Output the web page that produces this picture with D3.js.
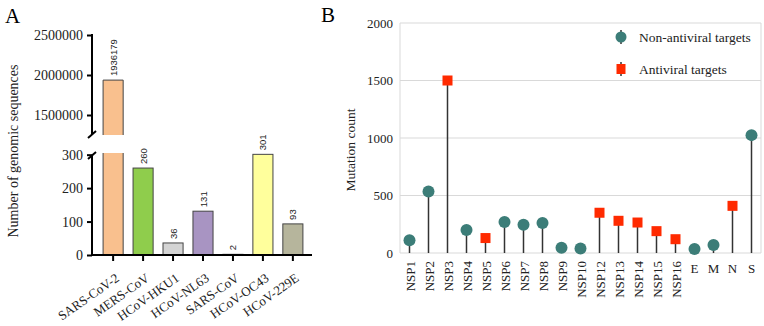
<!DOCTYPE html>
<html>
<head>
<meta charset="utf-8">
<script src="https://cdn.jsdelivr.net/npm/d3@7"></script>
<style>
  body { margin: 0; background: #fff; }
  svg { display: block; }
</style>
</head>
<body>
<svg id="chart" width="764" height="326"></svg>
<script>
// Panel A data
var viruses = ["SARS-CoV-2", "MERS-CoV", "HCoV-HKU1", "HCoV-NL63", "SARS-CoV", "HCoV-OC43", "HCoV-229E"]
var sequenceCounts = [1936179, 260, 36, 131, 2, 301, 93]
var virusColors = ["#f9c08e", "#8fcd4c", "#d4d4d4", "#a894c2", "#eeeeee", "#ffff9c", "#b6b59c"]
var topTicks = [1500000, 2000000, 2500000]
var bottomTicks = [0, 100, 200, 300]

// Panel B data
var proteins = ["NSP1", "NSP2", "NSP3", "NSP4", "NSP5", "NSP6", "NSP7", "NSP8", "NSP9", "NSP10",
                "NSP12", "NSP13", "NSP14", "NSP15", "NSP16", "E", "M", "N", "S"]
var mutationCounts = [110, 535, 1500, 200, 130, 270, 245, 260, 45, 40,
                      350, 280, 265, 190, 120, 35, 70, 410, 1025]
var antiviral = [false, false, true, false, true, false, false, false, false, false,
                 true, true, true, true, true, false, false, true, false]
var mutationTicks = [0, 500, 1000, 1500, 2000]

var teal = "#3c7d78"
var red = "#ff2a00"
var serif = "'Liberation Serif', 'Times New Roman', serif"

var svg = d3.select("#chart")

// ---------------- Panel A ----------------
var xA = d3.scaleBand().domain(viruses).range([98, 308]).paddingInner(0.33).paddingOuter(0.17)
var yTop = d3.scaleLinear().domain([1250000, 2500000]).range([135, 35])
var yBot = d3.scaleLinear().domain([0, 305]).range([255, 153])
var axisX = 92

svg.append("text").attr("x", 5).attr("y", 23).attr("font-size", 21).text("A")

var gA = svg.append("g")

// bars
viruses.forEach(function(v, i) {
  var val = sequenceCounts[i]
  var x0 = xA(v), x1 = x0 + xA.bandwidth()
  if (val > yBot.domain()[1]) {
    // lower piece, open at the top
    gA.append("rect").attr("x", x0).attr("y", yBot.range()[1]).attr("width", xA.bandwidth())
      .attr("height", yBot(0) - yBot.range()[1]).attr("fill", virusColors[i])
    gA.append("path").attr("d", `M${x0},${yBot.range()[1]}V${yBot(0)}H${x1}V${yBot.range()[1]}`)
      .attr("fill", "none").attr("stroke", "#444").attr("stroke-width", 1)
    // upper piece, open at the bottom
    gA.append("rect").attr("x", x0).attr("y", yTop(val)).attr("width", xA.bandwidth())
      .attr("height", yTop.range()[0] - yTop(val)).attr("fill", virusColors[i])
    gA.append("path").attr("d", `M${x0},${yTop.range()[0]}V${yTop(val)}H${x1}V${yTop.range()[0]}`)
      .attr("fill", "none").attr("stroke", "#444").attr("stroke-width", 1)
  } else {
    gA.append("rect").attr("x", x0).attr("y", yBot(val)).attr("width", xA.bandwidth())
      .attr("height", yBot(0) - yBot(val)).attr("fill", virusColors[i])
      .attr("stroke", "#444").attr("stroke-width", 1)
  }
  var top = val > yBot.domain()[1] ? yTop(val) : yBot(val)
  gA.append("text")
    .attr("class", "vlab")
    .attr("transform", `translate(${x0 + xA.bandwidth() / 2 + 3.5},${top - 4}) rotate(-90)`)
    .attr("font-family", "'Liberation Sans', Arial, sans-serif")
    .attr("font-size", 9.5)
    .attr("fill", "#222")
    .text(val)
})

// y axes (two segments)
var topAxis = gA.append("g").attr("transform", `translate(${axisX},0)`)
  .call(d3.axisLeft(yTop).tickValues(topTicks).tickSize(5).tickPadding(4).tickFormat(d3.format("d")))
var botAxis = gA.append("g").attr("transform", `translate(${axisX},0)`)
  .call(d3.axisLeft(yBot).tickValues(bottomTicks).tickSize(5).tickPadding(4).tickFormat(d3.format("d")))
;[topAxis, botAxis].forEach(function(ax) {
  ax.select(".domain").remove()
  ax.selectAll("line").attr("stroke", "#000").attr("stroke-width", 2)
  ax.selectAll("text").attr("font-size", 14).attr("fill", "#222")
})
gA.append("line").attr("x1", axisX).attr("x2", axisX).attr("y1", yTop(2500000) - 1).attr("y2", 134)
  .attr("stroke", "#000").attr("stroke-width", 2)
gA.append("line").attr("x1", axisX).attr("x2", axisX).attr("y1", 156).attr("y2", yBot(0) + 1)
  .attr("stroke", "#000").attr("stroke-width", 2)
// break marks
gA.append("line").attr("x1", axisX - 4).attr("y1", 138).attr("x2", axisX + 4).attr("y2", 131)
  .attr("stroke", "#000").attr("stroke-width", 2)
gA.append("line").attr("x1", axisX - 4).attr("y1", 159).attr("x2", axisX + 4).attr("y2", 152)
  .attr("stroke", "#000").attr("stroke-width", 2)

// x axis
var xAxisA = gA.append("g").attr("transform", `translate(0,${yBot(0)})`)
  .call(d3.axisBottom(xA).tickSize(6).tickFormat(""))
xAxisA.select(".domain").attr("d", `M${axisX},0H312`).attr("stroke", "#000").attr("stroke-width", 2)
xAxisA.selectAll("line").attr("stroke", "#000").attr("stroke-width", 2)

gA.selectAll(".xlab").data(viruses).enter().append("text")
  .attr("class", "xlab")
  .attr("transform", d => `translate(${xA(d) + xA.bandwidth() / 2 + 7},${yBot(0) + 25}) rotate(-35)`)
  .attr("text-anchor", "end")
  .attr("font-size", 13)
  .attr("fill", "#222")
  .text(d => d)

svg.append("text")
  .attr("transform", "translate(18,151) rotate(-90)")
  .attr("text-anchor", "middle")
  .attr("font-size", 14)
  .attr("fill", "#222")
  .text("Number of genomic sequences")

// ---------------- Panel B ----------------
var xB = d3.scaleBand().domain(proteins).range([400, 761])
var yB = d3.scaleLinear().domain([0, 2000]).range([253, 23])

svg.append("text").attr("x", 321).attr("y", 22).attr("font-size", 21).text("B")

var gB = svg.append("g")

// grid + frame
gB.selectAll(".grid").data(mutationTicks).enter().append("line")
  .attr("x1", 400).attr("x2", 761).attr("y1", d => yB(d)).attr("y2", d => yB(d))
  .attr("stroke", "#d9d9d9").attr("stroke-width", 1)
gB.append("line").attr("x1", 400).attr("x2", 400).attr("y1", yB(2000)).attr("y2", yB(0))
  .attr("stroke", "#d9d9d9")
gB.append("line").attr("x1", 761).attr("x2", 761).attr("y1", yB(2000)).attr("y2", yB(0))
  .attr("stroke", "#d9d9d9")

var yAxisB = gB.append("g").attr("transform", "translate(400,0)")
  .call(d3.axisLeft(yB).tickValues(mutationTicks).tickSize(0).tickPadding(7).tickFormat(d3.format("d")))
yAxisB.select(".domain").remove()
yAxisB.selectAll("text").attr("font-size", 13).attr("fill", "#222")

svg.append("text")
  .attr("transform", "translate(355,150) rotate(-90)")
  .attr("text-anchor", "middle")
  .attr("font-size", 13.5)
  .attr("fill", "#222")
  .text("Mutation count")

// stems
var pts = proteins.map((p, i) => ({ name: p, value: mutationCounts[i], anti: antiviral[i] }))
gB.selectAll(".stem").data(pts).enter().append("line")
  .attr("x1", d => xB(d.name) + xB.bandwidth() / 2)
  .attr("x2", d => xB(d.name) + xB.bandwidth() / 2)
  .attr("y1", yB(0)).attr("y2", d => yB(d.value))
  .attr("stroke", "#333").attr("stroke-width", 1.5)

gB.selectAll(".dot").data(pts.filter(d => !d.anti)).enter().append("circle")
  .attr("cx", d => xB(d.name) + xB.bandwidth() / 2)
  .attr("cy", d => yB(d.value))
  .attr("r", 6)
  .attr("fill", teal)

gB.selectAll(".sq").data(pts.filter(d => d.anti)).enter().append("rect")
  .attr("x", d => xB(d.name) + xB.bandwidth() / 2 - 5)
  .attr("y", d => yB(d.value) - 5)
  .attr("width", 10).attr("height", 10)
  .attr("fill", red)

// x labels
gB.selectAll(".plab").data(proteins).enter().append("text")
  .attr("transform", function(d) {
    var cx = xB(d) + xB.bandwidth() / 2
    return d.length > 1 ? `translate(${cx + 5},261) rotate(-90)` : `translate(${cx},273)`
  })
  .attr("text-anchor", d => d.length > 1 ? "end" : "middle")
  .attr("font-size", 13)
  .attr("fill", "#222")
  .text(d => d)

// legend
var legend = [{ label: "Non-antiviral targets", anti: false, y: 37 }, { label: "Antiviral targets", anti: true, y: 69 }]
legend.forEach(function(l) {
  var lg = svg.append("g").attr("transform", `translate(621,${l.y})`)
  lg.append("line").attr("y1", -7).attr("y2", 7).attr("stroke", "#333").attr("stroke-width", 1.5)
  if (l.anti) lg.append("rect").attr("x", -4.5).attr("y", -5).attr("width", 9).attr("height", 10).attr("fill", red)
  else lg.append("circle").attr("r", 5.5).attr("fill", teal)
  lg.append("text").attr("x", 18).attr("y", 4.5).attr("font-size", 13.5).attr("fill", "#222").text(l.label)
})

// serif everywhere except the small value labels
svg.selectAll("text:not(.vlab)").attr("font-family", serif)
</script>
</body>
</html>
